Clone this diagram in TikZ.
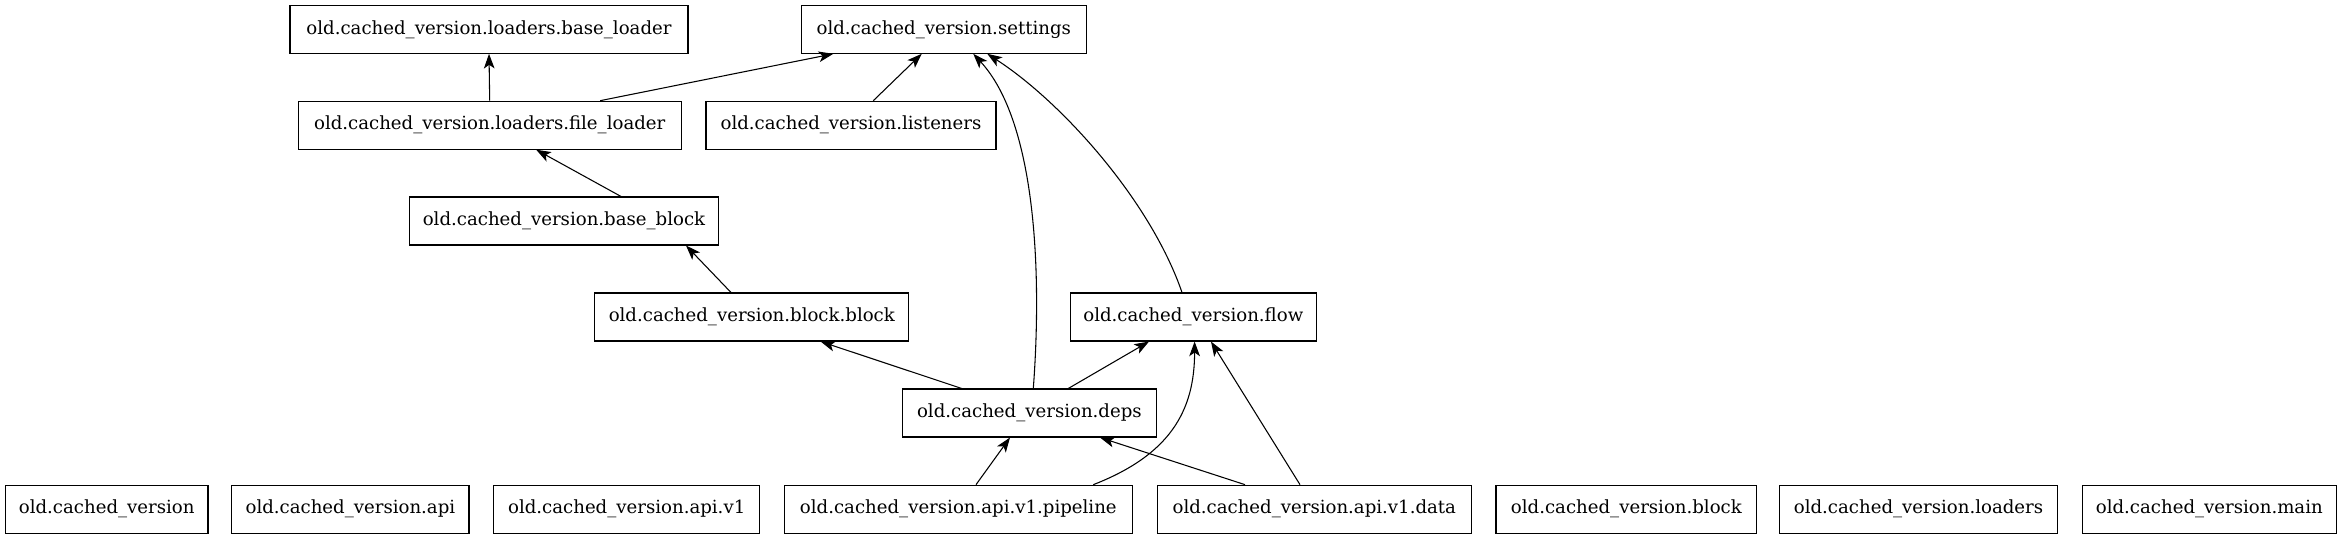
\documentclass[tikz,border=0pt]{standalone}
\usepackage{fontspec}
\setmainfont{DejaVu Serif}
\usetikzlibrary{arrows.meta,calc}
\tikzset{
  mod/.style={draw, rectangle, line width=0.8pt, inner sep=0pt, minimum height=36pt, font=\fontsize{13.6}{16}\selectfont},
  bw/.style={minimum width=#1*0.75pt},
  edge/.style={line width=0.8pt, -{Stealth[length=11pt,width=8pt,inset=2.8pt]}}
}
\begin{document}
\begin{tikzpicture}[x=0.75pt,y=-0.75pt]
\useasboundingbox (0,0) rectangle (2342,539);
% row 0
\node[mod,bw=398] (bl) at (489,29.3) {old.cached\_version.loaders.base\_loader};
\node[mod,bw=285.5] (set) at (943.8,29.3) {old.cached\_version.settings};
% row 1
\node[mod,bw=383] (fl) at (489.7,125.2) {old.cached\_version.loaders.file\_loader};
\node[mod,bw=290] (li) at (851,125.2) {old.cached\_version.listeners};
% row 2
\node[mod,bw=309] (bb) at (564,221) {old.cached\_version.base\_block};
% row 3
\node[mod,bw=314] (blkb) at (751.8,317) {old.cached\_version.block.block};
\node[mod,bw=246.5] (flow) at (1193.3,317) {old.cached\_version.flow};
% row 4
\node[mod,bw=253.3] (deps) at (1029.4,413) {old.cached\_version.deps};
% row 5
\node[mod,bw=202.6] (cv) at (106.7,509.2) {old.cached\_version};
\node[mod,bw=237.2] (api) at (350.4,509.2) {old.cached\_version.api};
\node[mod,bw=266.3] (apiv) at (626.7,509.2) {old.cached\_version.api.v1};
\node[mod,bw=348.1] (pipe) at (958.3,509.2) {old.cached\_version.api.v1.pipeline};
\node[mod,bw=313.5] (data) at (1314.3,509.2) {old.cached\_version.api.v1.data};
\node[mod,bw=260.8] (blk) at (1626.4,509.2) {old.cached\_version.block};
\node[mod,bw=277.5] (lo) at (1918.5,509.2) {old.cached\_version.loaders};
\node[mod,bw=254] (main) at (2209.3,509.2) {old.cached\_version.main};
% edges
\draw[edge] (fl.north) -- (bl.south);
\draw[edge] ($(fl.north)+(110.5,0)$) -- ($(set.south)+(-110.5,0)$);
\draw[edge] ($(li.north)+(22.3,0)$) -- ($(set.south)+(-22.1,0)$);
\draw[edge] ($(bb.north)+(57,0)$) -- ($(fl.south)+(46.5,0)$);
\draw[edge] ($(blkb.north)+(-20.8,0)$) -- ($(bb.south)+(122,0)$);
\draw[edge] ($(deps.north)+(-67.7,0)$) -- ($(blkb.south)+(68.8,0)$);
\draw[edge] ($(deps.north)+(3.9,0)$) .. controls +(9,-119) and +(62,67) .. ($(set.south)+(29.5,0)$);
\draw[edge] ($(deps.north)+(38.9,0)$) -- ($(flow.south)+(-44.3,0)$);
\draw[edge] ($(flow.north)+(-11.3,0)$) .. controls +(-32,-93) and +(73,47) .. ($(set.south)+(43.5,0)$);
\draw[edge] ($(pipe.north)+(17.7,0)$) -- ($(deps.south)+(-19.4,0)$);
\draw[edge] ($(pipe.north)+(135,0)$) .. controls +(77,-30) and +(0,69) .. ($(flow.south)+(1.3,0)$);
\draw[edge] ($(data.north)+(-69.3,0)$) -- ($(deps.south)+(70.6,0)$);
\draw[edge] ($(data.north)+(-14.3,0)$) -- ($(flow.south)+(17.7,0)$);
\end{tikzpicture}
\end{document}
